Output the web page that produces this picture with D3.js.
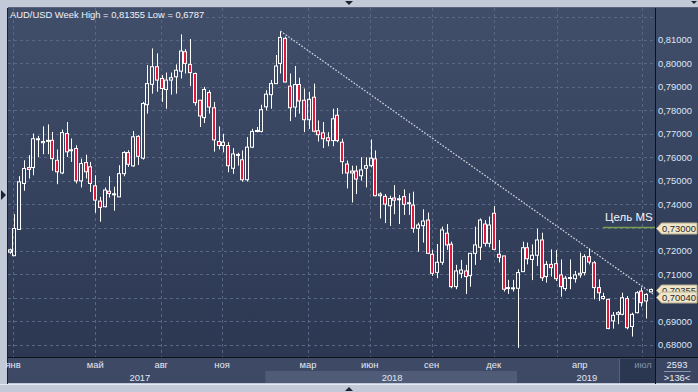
<!DOCTYPE html>
<html><head><meta charset="utf-8">
<script src="https://cdn.jsdelivr.net/npm/d3@7"></script>
<style>body{margin:0;background:#c2cad7;overflow:hidden}svg{display:block}</style>
</head><body><svg id="chart" width="698" height="392"></svg>
<script>
// ---- DATA (weekly AUD/USD candles) ----
const opens  = [0.7195,0.7180,0.7292,0.7488,0.7556,0.7556,0.7676,0.7662,0.7668,0.7672,0.7587,0.7533,0.7701,0.7628,0.7637,0.7499,0.7577,0.7559,0.7478,0.7413,0.7389,0.7455,0.7442,0.7431,0.7530,0.7620,0.7563,0.7689,0.7596,0.7824,0.7911,0.7986,0.7936,0.7889,0.7929,0.7943,0.7967,0.8050,0.7996,0.7957,0.7843,0.7769,0.7876,0.7811,0.7667,0.7650,0.7650,0.7553,0.7608,0.7589,0.7504,0.7643,0.7711,0.7710,0.7815,0.7867,0.7914,0.8000,0.8107,0.7903,0.7814,0.7910,0.7843,0.7760,0.7856,0.7713,0.7704,0.7683,0.7671,0.7779,0.7664,0.7571,0.7533,0.7541,0.7521,0.7553,0.7564,0.7593,0.7436,0.7433,0.7393,0.7426,0.7420,0.7432,0.7402,0.7396,0.7297,0.7308,0.7332,0.7186,0.7109,0.7152,0.7276,0.7229,0.7048,0.7105,0.7115,0.7095,0.7190,0.7216,0.7315,0.7233,0.7361,0.7186,0.7179,0.7041,0.7040,0.7041,0.7112,0.7214,0.7164,0.7182,0.7247,0.7091,0.7143,0.7146,0.7098,0.7040,0.7084,0.7082,0.7098,0.7108,0.7176,0.7150,0.7044,0.6997,0.6994,0.6902,0.6930,0.6930,0.6997,0.6878,0.6937,0.7029,0.6987,0.7026];
const highs  = [0.7210,0.7357,0.7519,0.7587,0.7609,0.7701,0.7691,0.7732,0.7740,0.7708,0.7633,0.7718,0.7750,0.7680,0.7651,0.7594,0.7611,0.7580,0.7523,0.7431,0.7471,0.7519,0.7474,0.7566,0.7626,0.7630,0.7712,0.7694,0.7836,0.7993,0.8064,0.8043,0.7950,0.7961,0.7961,0.7996,0.8124,0.8061,0.8104,0.7961,0.7843,0.7900,0.7886,0.7836,0.7731,0.7700,0.7664,0.7639,0.7619,0.7629,0.7686,0.7721,0.7729,0.7824,0.7886,0.7929,0.8036,0.8136,0.8114,0.7957,0.7989,0.7939,0.7893,0.7879,0.7914,0.7757,0.7750,0.7707,0.7807,0.7810,0.7679,0.7586,0.7564,0.7564,0.7600,0.7600,0.7676,0.7629,0.7450,0.7443,0.7436,0.7481,0.7439,0.7463,0.7446,0.7453,0.7321,0.7378,0.7364,0.7205,0.7230,0.7304,0.7315,0.7240,0.7141,0.7162,0.7141,0.7190,0.7304,0.7339,0.7332,0.7347,0.7392,0.7247,0.7179,0.7077,0.7077,0.7122,0.7240,0.7236,0.7228,0.7295,0.7278,0.7157,0.7207,0.7204,0.7164,0.7094,0.7164,0.7115,0.7193,0.7186,0.7210,0.7157,0.7079,0.7022,0.6994,0.6940,0.6944,0.7022,0.7008,0.6937,0.7029,0.7044,0.7020,0.7040];
const lows   = [0.7188,0.7180,0.7290,0.7457,0.7509,0.7523,0.7601,0.7613,0.7613,0.7542,0.7485,0.7528,0.7601,0.7580,0.7488,0.7471,0.7509,0.7452,0.7363,0.7325,0.7386,0.7428,0.7372,0.7431,0.7519,0.7559,0.7559,0.7567,0.7590,0.7786,0.7871,0.7879,0.7836,0.7807,0.7867,0.7871,0.7936,0.7957,0.7904,0.7820,0.7729,0.7746,0.7786,0.7624,0.7633,0.7621,0.7536,0.7529,0.7564,0.7496,0.7496,0.7639,0.7706,0.7706,0.7800,0.7807,0.7914,0.7957,0.7919,0.7754,0.7771,0.7786,0.7707,0.7721,0.7706,0.7667,0.7639,0.7647,0.7647,0.7664,0.7529,0.7467,0.7407,0.7443,0.7500,0.7471,0.7557,0.7433,0.7339,0.7319,0.7307,0.7357,0.7315,0.7354,0.7354,0.7278,0.7197,0.7236,0.7187,0.7094,0.7084,0.7141,0.7205,0.7041,0.7037,0.7084,0.7017,0.7048,0.7141,0.7162,0.7219,0.7216,0.7207,0.7151,0.7027,0.7017,0.7027,0.6787,0.7112,0.7143,0.7076,0.7136,0.7072,0.7065,0.7091,0.7072,0.7005,0.7030,0.7037,0.7065,0.7086,0.7096,0.7143,0.6994,0.6987,0.6993,0.6866,0.6869,0.6888,0.6926,0.6866,0.6835,0.6934,0.6963,0.6912,0.7024];
const closes = [0.7205,0.7296,0.7495,0.7552,0.7548,0.7679,0.7679,0.7667,0.7672,0.7594,0.7538,0.7705,0.7623,0.7632,0.7499,0.7573,0.7538,0.7488,0.7417,0.7386,0.7460,0.7445,0.7444,0.7530,0.7620,0.7570,0.7687,0.7604,0.7829,0.7914,0.7986,0.7929,0.7893,0.7929,0.7939,0.7971,0.8053,0.8000,0.7961,0.7833,0.7776,0.7889,0.7814,0.7674,0.7650,0.7664,0.7564,0.7614,0.7612,0.7504,0.7643,0.7710,0.7714,0.7803,0.7869,0.7914,0.7989,0.8111,0.7921,0.7811,0.7910,0.7840,0.7760,0.7847,0.7711,0.7696,0.7679,0.7670,0.7764,0.7671,0.7581,0.7533,0.7541,0.7507,0.7546,0.7564,0.7596,0.7436,0.7443,0.7400,0.7424,0.7417,0.7423,0.7399,0.7406,0.7297,0.7311,0.7328,0.7190,0.7105,0.7152,0.7290,0.7226,0.7048,0.7115,0.7119,0.7091,0.7190,0.7226,0.7332,0.7233,0.7311,0.7207,0.7173,0.7037,0.7044,0.7043,0.7108,0.7214,0.7167,0.7182,0.7247,0.7086,0.7143,0.7129,0.7082,0.7048,0.7084,0.7087,0.7098,0.7105,0.7176,0.7153,0.7044,0.7022,0.7006,0.6870,0.6926,0.6937,0.7001,0.6873,0.6930,0.7022,0.6980,0.7015,0.7036];

const gridPrices  = [0.68,0.69,0.70,0.71,0.72,0.73,0.74,0.75,0.76,0.77,0.78,0.79,0.80,0.81,0.82];
const labelPrices = [0.68,0.69,0.70,0.71,0.72,0.73,0.74,0.75,0.76,0.77,0.78,0.79,0.80,0.81];
const gridWeeks   = [0.7,18,31.9,44.7,62.8,75.8,88.8,101.9,115.2,133.1];
const monthNames  = ["янв","май","авг","ноя","мар","июн","сен","дек","апр","июл"];
const monthWeeks  = [0.7,18,31.9,44.7,62.8,75.8,88.8,101.9,120,133.3];
const yearNames   = ["2017","2018","2019"];
const yearWeeks   = [27.4,80.5,121.5];
const yearBands   = [[-1,53.8],[53.8,106.8],[106.8,128.2]];
const tagValues   = [0.73,0.70355,0.70040];
const targetPrice = 0.73, targetLabel = "Цель MS";
const trendWeeks  = [57,135.4], trendPrices = [0.8138,0.7017];
const titleText   = "AUD/USD Week High = 0,81355 Low = 0,6787";

// ---- LAYOUT ----
const L=8, R=655, T=8, B=357;
const svg=d3.select("#chart");
const x=d3.scaleLinear().domain([0,135]).range([9.7,651]);
const y=d3.scaleLinear().domain([0.68,0.81]).range([344.8,40]);
const fmt=v=>d3.format(".5f")(v).replace(".",",");
const FONT="'Liberation Sans', Arial, sans-serif";

const defs=svg.append("defs");
const g1=defs.append("linearGradient").attr("id","bg").attr("x1",0).attr("x2",0).attr("y1",0).attr("y2",1);
g1.append("stop").attr("offset","0%").attr("stop-color","#414e6a");
g1.append("stop").attr("offset","100%").attr("stop-color","#2c3852");
defs.append("clipPath").attr("id","clip").append("rect").attr("x",L).attr("y",T).attr("width",R-L).attr("height",B-T);

// frame
svg.append("rect").attr("width",698).attr("height",392).attr("fill","#c2cad7");
svg.append("line").attr("x1",0).attr("x2",698).attr("y1",384.5).attr("y2",384.5).attr("stroke","#e6ebf2");
svg.append("rect").attr("x",L).attr("y",T).attr("width",R-L).attr("height",B-T).attr("fill","url(#bg)");
svg.append("rect").attr("x",R).attr("y",T).attr("width",698-R).attr("height",B-T).attr("fill","url(#bg)");
svg.append("line").attr("x1",L-0.5).attr("x2",L-0.5).attr("y1",T).attr("y2",384).attr("stroke","#1b2130");
svg.append("line").attr("x1",L).attr("x2",698).attr("y1",T-0.5).attr("y2",T-0.5).attr("stroke","#59647c");

// grid
const grid=svg.append("g").attr("clip-path","url(#clip)").attr("stroke","#5a6784").attr("stroke-dasharray","3,3").attr("stroke-width",1);
grid.selectAll(".h").data(gridPrices).join("line").attr("x1",L).attr("x2",R)
  .attr("y1",d=>Math.round(y(d))+0.5).attr("y2",d=>Math.round(y(d))+0.5);
grid.selectAll(".v").data(gridWeeks).join("line").attr("y1",T).attr("y2",B)
  .attr("x1",d=>Math.round(x(d))+0.5).attr("x2",d=>Math.round(x(d))+0.5);

// trend line
svg.append("line").attr("x1",x(trendWeeks[0])).attr("y1",y(trendPrices[0])).attr("x2",x(trendWeeks[1])).attr("y2",y(trendPrices[1]))
  .attr("stroke","#d6dae4").attr("stroke-width",1.2).attr("stroke-dasharray","1.6,1.6");

// target line
svg.append("line").attr("x1",603).attr("x2",R).attr("y1",y(targetPrice)).attr("y2",y(targetPrice)).attr("stroke","#76a04e").attr("stroke-width",1.6);
svg.append("text").attr("x",605).attr("y",y(targetPrice)-7).attr("fill","#f2f5fa").attr("font-family",FONT).attr("font-size","11.5px").text(targetLabel);

// candles
const idx=d3.range(opens.length);
const cg=svg.append("g").attr("clip-path","url(#clip)");
const cx=i=>Math.round(x(i));
cg.selectAll(".w1").data(idx).join("line").attr("stroke","#ffffff").attr("stroke-width",1)
  .attr("x1",i=>cx(i)+0.5).attr("x2",i=>cx(i)+0.5)
  .attr("y1",i=>y(highs[i])).attr("y2",i=>y(Math.max(opens[i],closes[i])));
cg.selectAll(".w2").data(idx).join("line").attr("stroke","#ffffff").attr("stroke-width",1)
  .attr("x1",i=>cx(i)+0.5).attr("x2",i=>cx(i)+0.5)
  .attr("y1",i=>y(Math.min(opens[i],closes[i]))).attr("y2",i=>y(lows[i]));
cg.selectAll(".b").data(idx).join("rect")
  .attr("x",i=>cx(i)-1.5).attr("width",3)
  .attr("y",i=>y(Math.max(opens[i],closes[i])))
  .attr("height",i=>Math.max(1,Math.abs(y(opens[i])-y(closes[i]))))
  .attr("fill",i=>closes[i]<opens[i]?"#e3163c":"none")
  .attr("stroke","#ffffff").attr("stroke-width",1);

// title
svg.append("text").attr("x",10).attr("y",18).attr("fill","#eef2f8").attr("font-family",FONT).attr("font-size","9.4px").text(titleText);

// right axis (labels hidden where a price tag covers them, as in the original)
svg.append("line").attr("x1",R+0.5).attr("x2",R+0.5).attr("y1",T).attr("y2",384).attr("stroke","#0d111a");
const shownLabels=labelPrices.filter(p=>!tagValues.some(t=>Math.abs(y(t)-y(p))<9));
svg.selectAll(".yl").data(shownLabels).join("text").attr("x",658).attr("y",d=>y(d)+3.4)
  .attr("fill","#dde6f6").attr("font-family",FONT).attr("font-size","9.4px").text(d=>fmt(d));
const tg=svg.selectAll(".tag").data(tagValues).join("g").attr("transform",d=>`translate(0,${Math.round(y(d))+0.5})`);
tg.append("path").attr("d","M656.5,0 L661.5,-5.5 L697,-5.5 L697,5.5 L661.5,5.5 Z").attr("fill","#efe6c9").attr("stroke","#b9ae90").attr("stroke-width",1);
tg.append("text").attr("x",662).attr("y",3.4).attr("fill","#2a2a2a").attr("font-family",FONT).attr("font-size","9.4px").text(d=>fmt(d));

// bottom axis
svg.append("rect").attr("x",L).attr("y",B).attr("width",R-L).attr("height",383-B).attr("fill","#3e4a65");
svg.selectAll(".yb").data(yearBands).join("rect").attr("x",d=>Math.max(L,x(d[0]))).attr("y",371)
  .attr("width",d=>x(d[1])-Math.max(L,x(d[0]))).attr("height",12)
  .attr("fill",(d,i)=>i===1?"#4f5b77":"#3e4a65");
svg.append("rect").attr("x",x(128.4)).attr("y",359).attr("width",R-x(128.4)).attr("height",24).attr("fill","#2b3650");
svg.append("line").attr("x1",Math.round(x(128.2))+0.5).attr("x2",Math.round(x(128.2))+0.5).attr("y1",359).attr("y2",383).attr("stroke","#56627c");
svg.append("line").attr("x1",L).attr("x2",698).attr("y1",B+0.5).attr("y2",B+0.5).attr("stroke","#0d111a");
svg.selectAll(".ml").data(monthNames).join("text").attr("x",(d,i)=>x(monthWeeks[i])).attr("y",368)
  .attr("text-anchor","middle").attr("fill",(d,i)=>i===monthNames.length-1?"#8592ab":"#e3e9f4")
  .attr("font-family",FONT).attr("font-size","9.4px").text(d=>d);
svg.selectAll(".yr").data(yearNames).join("text").attr("x",(d,i)=>x(yearWeeks[i])).attr("y",381)
  .attr("text-anchor","middle").attr("fill","#e3e9f4").attr("font-family",FONT).attr("font-size","9.4px").text(d=>d);
// bottom-right box
svg.append("rect").attr("x",R+1).attr("y",B+1).attr("width",698-R-1).attr("height",383-B-1).attr("fill","#3a4661");
svg.append("text").attr("x",677).attr("y",368).attr("text-anchor","middle").attr("fill","#e8edf6").attr("font-family",FONT).attr("font-size","9.4px").text("2593");
svg.append("line").attr("x1",664).attr("x2",691).attr("y1",371.5).attr("y2",371.5).attr("stroke","#8a96ad");
svg.append("text").attr("x",677).attr("y",381).attr("text-anchor","middle").attr("fill","#e8edf6").attr("font-family",FONT).attr("font-size","9.4px").text(">" + opens.length + "<");

// small frame arrows
svg.append("path").attr("d","M345,1 L353,1 L349,5 Z").attr("fill","#1c2333");
svg.append("path").attr("d","M345,391 L353,391 L349,387 Z").attr("fill","#1c2333");
svg.append("path").attr("d","M1,190 L1,200 L6,195 Z").attr("fill","#1c2333");
svg.append("path").attr("d","M691,1 L697,1 L694,4 Z").attr("fill","#1c2333");
</script></body></html>
